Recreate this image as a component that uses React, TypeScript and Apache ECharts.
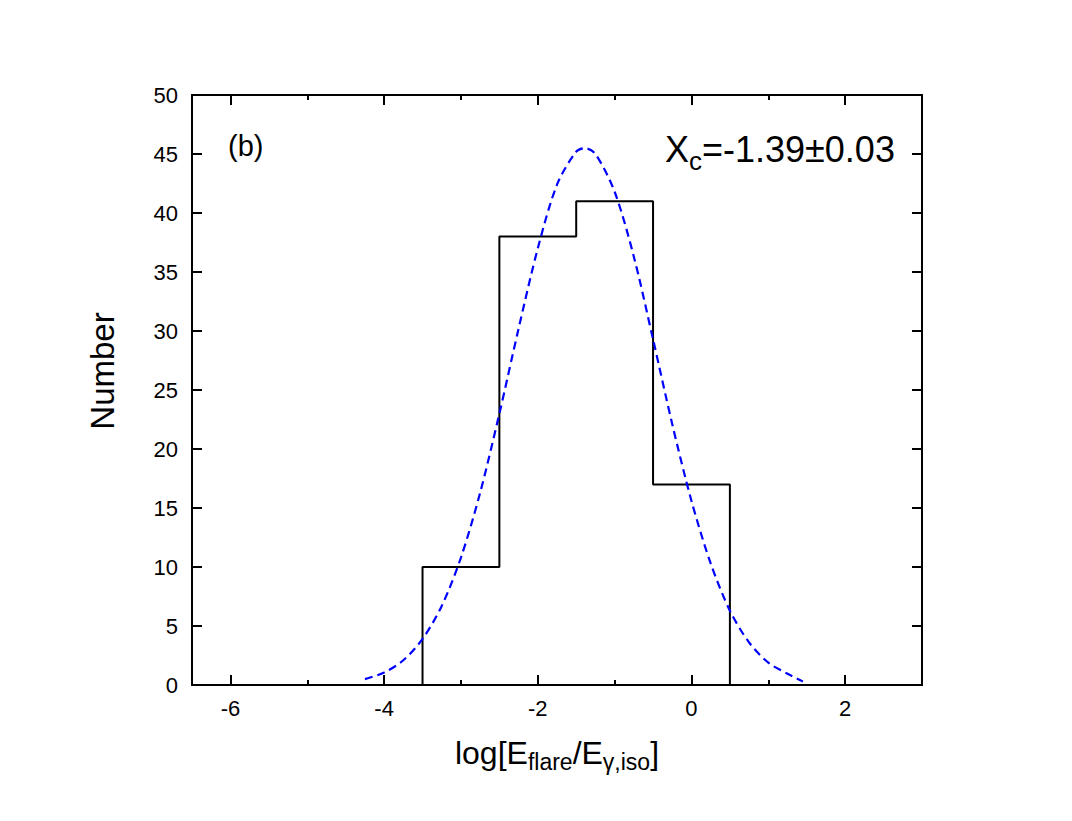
import React, { useEffect, useRef } from 'react';
import * as echarts from 'echarts';

// histogram bins (edges) and counts
const binEdges = [-3.5, -2.5, -1.5, -0.5, 0.5];
const binCounts = [10, 38, 41, 17];

// gaussian fit
const fitX = [-4.25, -4.0, -3.75, -3.5, -3.25, -3.0, -2.75, -2.5, -2.25, -2.0, -1.75, -1.5, -1.39, -1.25, -1.0, -0.75, -0.5, -0.25, 0.0, 0.25, 0.5, 0.75, 1.0, 1.25, 1.45];
const fitY = [0.5, 1.05, 2.1, 3.9, 6.7, 10.8, 16.3, 23.0, 30.2, 37.0, 42.4, 45.2, 45.5, 45.0, 41.8, 36.3, 29.3, 22.1, 15.6, 10.3, 6.3, 3.6, 1.9, 0.95, 0.3];

const xMajor = [-6, -4, -2, 0, 2];
const xMinor = [-5, -3, -1, 1];

const FONT = 'Liberation Sans';

const App = () => {
  const chartRef = useRef(null);

  useEffect(() => {
    const myChart = echarts.init(chartRef.current, null, { renderer: 'svg' });

    const histPts: number[][] = [[binEdges[0], 0]];
    binCounts.forEach((c, i) => {
      histPts.push([binEdges[i], c], [binEdges[i + 1], c]);
    });
    histPts.push([binEdges[binEdges.length - 1], 0]);

    const fitPts = fitX.map((x, i) => [x, fitY[i]]);

    const axisLine = { show: true, onZero: false, lineStyle: { color: '#000', width: 2 } };
    const tickStyle = { color: '#000', width: 2 };

    const xBase = {
      type: 'value',
      min: -6.5,
      max: 3,
      splitLine: { show: false },
      axisLine,
    };

    const yBase = {
      type: 'value',
      min: 0,
      max: 50,
      interval: 5,
      splitLine: { show: false },
      axisLine,
      axisTick: { show: true, inside: true, length: 10, lineStyle: tickStyle },
    };

    const option = {
      animation: false,
      backgroundColor: '#fff',
      textStyle: { fontFamily: FONT },
      grid: { left: 192, top: 95, width: 730, height: 590, containLabel: false },
      xAxis: [
        {
          ...xBase,
          position: 'bottom',
          axisTick: { show: true, inside: true, length: 10, customValues: xMajor, lineStyle: tickStyle },
          axisLabel: { show: true, customValues: xMajor, margin: 12, fontSize: 22, color: '#000', fontFamily: FONT },
        },
        {
          ...xBase,
          position: 'bottom',
          axisTick: { show: true, inside: true, length: 5, customValues: xMinor, lineStyle: tickStyle },
          axisLabel: { show: false },
        },
        {
          ...xBase,
          position: 'top',
          axisTick: { show: true, inside: true, length: 10, customValues: xMajor, lineStyle: tickStyle },
          axisLabel: { show: false },
        },
        {
          ...xBase,
          position: 'top',
          axisTick: { show: true, inside: true, length: 5, customValues: xMinor, lineStyle: tickStyle },
          axisLabel: { show: false },
        },
      ],
      yAxis: [
        {
          ...yBase,
          position: 'left',
          axisLabel: { margin: 14, fontSize: 22, color: '#000', fontFamily: FONT },
        },
        {
          ...yBase,
          position: 'right',
          axisLabel: { show: false },
        },
      ],
      series: [
        {
          name: 'hist',
          type: 'line',
          xAxisIndex: 0,
          yAxisIndex: 0,
          data: histPts,
          showSymbol: false,
          lineStyle: { color: '#000', width: 2 },
          z: 3,
        },
        {
          name: 'fit',
          type: 'line',
          xAxisIndex: 0,
          yAxisIndex: 0,
          data: fitPts,
          smooth: 0.3,
          showSymbol: false,
          lineStyle: { color: '#0000ff', width: 2.2, type: [8, 5] },
          z: 4,
        },
      ],
      graphic: [
        {
          type: 'text',
          x: 102,
          y: 371,
          rotation: Math.PI / 2,
          style: { text: 'Number', fontSize: 33, fontFamily: FONT, fill: '#000', align: 'center', verticalAlign: 'middle' },
        },
        {
          type: 'text',
          x: 557,
          y: 737,
          style: {
            text: '{n|log[E}{s|flare}{n|/E}{s|γ,iso}{n|]}',
            align: 'center',
            verticalAlign: 'top',
            fill: '#000',
            rich: {
              n: { fontSize: 32, fontFamily: FONT, verticalAlign: 'top' },
              s: { fontSize: 23, fontFamily: FONT, verticalAlign: 'top', padding: [13, 0, 0, 0] },
            },
          },
        },
        {
          type: 'text',
          x: 228,
          y: 146,
          style: { text: '(b)', fontSize: 29, fontFamily: FONT, fill: '#000', align: 'left', verticalAlign: 'middle' },
        },
        {
          type: 'text',
          x: 665,
          y: 131,
          style: {
            text: '{n|X}{s|c}{n|=-1.39±0.03}',
            align: 'left',
            verticalAlign: 'top',
            fill: '#000',
            rich: {
              n: { fontSize: 36, fontFamily: FONT, verticalAlign: 'top' },
              s: { fontSize: 26, fontFamily: FONT, verticalAlign: 'top', padding: [17, 0, 0, 0] },
            },
          },
        },
      ],
    };

    myChart.setOption(option);

    return () => {
      myChart.dispose();
    };
  }, []);

  return <div ref={chartRef} style={{ position: 'fixed', left: 0, top: 0, width: '1072px', height: '821px' }} />;
};

export default App;
